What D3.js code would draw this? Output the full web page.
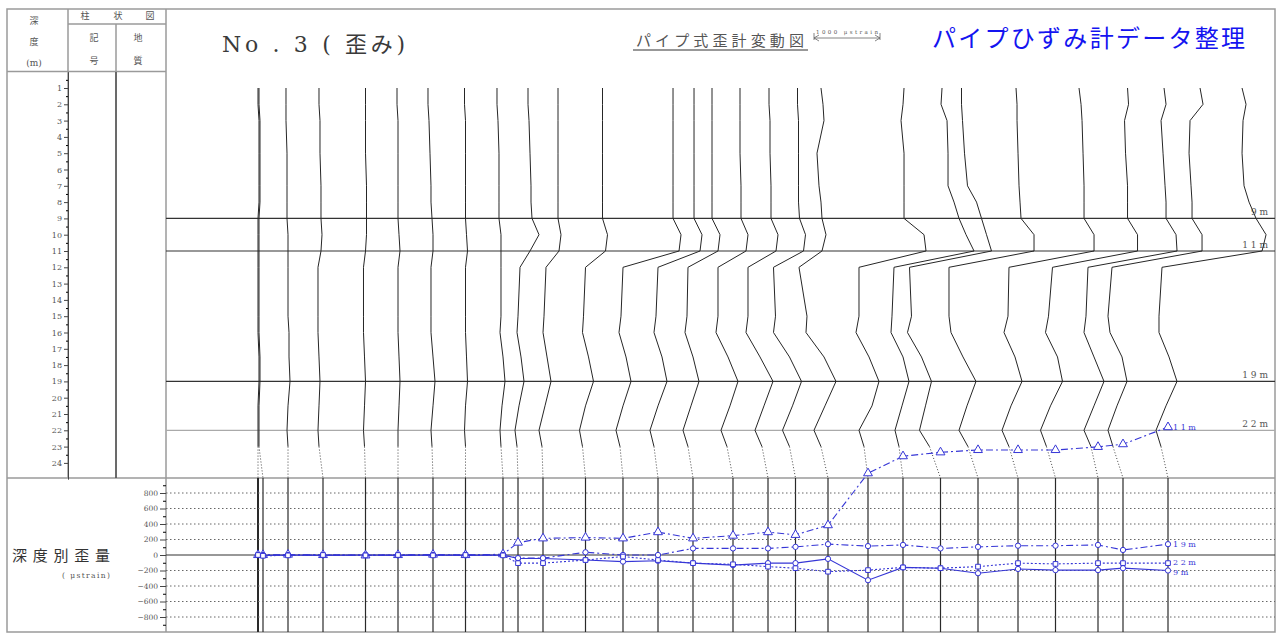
<!DOCTYPE html>
<html>
<head>
<meta charset="utf-8">
<script src="https://cdn.jsdelivr.net/npm/d3@7"></script>
<style>
  body { margin: 0; background: #fff; }
  svg { display: block; }
  text { font-family: "DejaVu Serif", "Noto Sans CJK JP", serif; }
</style>
</head>
<body>
<script>
(function () {
    var width = 1278;
    var height = 635;

    // days since the first reading, one per measurement
    var obsDays = [0, 2, 12, 26, 43, 56, 70, 83, 98, 104, 114, 131, 146, 160, 174, 190, 204, 215, 228, 244, 258, 273, 288, 304, 319, 336, 346, 364];

    // depths (m) at which each profile is read
    var nodeDepths = [1, 2, 3, 5, 7, 8, 9, 10, 11, 12, 15, 16, 17.5, 19, 20.5, 22, 23];

    // cumulative strain (μstrain) of each profile, one row per measurement
    var profiles = [
        [0, 0, 15, 15, 15, 15, 0, 0, 0, 0, 0, 0, 15, 15, 0, 0, 0],
        [-60, -60, -45, -45, -45, -45, -60, -60, -60, -60, -60, -60, -45, -45, -60, -60, -60],
        [-30, -30, -30, -15, -15, -15, -15, 0, 0, 0, 0, 15, 15, 30, 0, -15, 0],
        [-60, -60, -45, -45, -30, -30, -30, -15, -30, -75, -75, -75, -60, -45, -60, -75, -60],
        [0, 0, 0, 0, 15, 15, 15, 15, 0, -30, -30, -30, -15, 0, -15, -30, -15],
        [-15, -15, 0, 0, 0, 0, 0, 15, 30, 0, 0, 0, 15, 30, 15, 0, 0],
        [-75, -75, -60, -45, -30, -30, -15, 0, 0, -30, -30, -30, 0, 30, 0, -30, -15],
        [-15, -15, 0, 0, 0, 0, 0, 15, 30, 0, 0, 0, 15, 30, 0, -15, 0],
        [-90, -90, -75, -60, -60, -60, -60, -30, -30, -30, -30, -45, 0, 30, -15, -45, -30],
        [150, 150, 165, 180, 195, 195, 210, 315, 180, 30, 0, -15, 45, 90, 15, -45, -15],
        [225, 225, 225, 225, 225, 225, 225, 270, 240, 45, 15, 0, 60, 120, 30, -60, -15],
        [255, 255, 255, 255, 255, 255, 255, 330, 300, 0, -30, -45, 45, 120, 0, -90, -45],
        [750, 750, 750, 750, 750, 750, 750, 870, 840, 0, -30, -60, 45, 120, 0, -105, -45],
        [540, 540, 540, 540, 540, 540, 540, 660, 630, 0, -30, -60, 60, 135, 0, -120, -60],
        [285, 285, 285, 285, 285, 285, 285, 405, 375, -75, -90, -120, 0, 90, -30, -150, -75],
        [105, 105, 105, 105, 120, 120, 120, 225, 195, -225, -225, -255, -75, 75, -45, -180, -90],
        [15, 15, 30, 30, 45, 45, 45, 150, 120, -300, -300, -330, -120, 75, -60, -195, -90],
        [30, 30, 45, 45, 45, 45, 60, 150, 120, -330, -300, -330, -90, 90, -45, -195, -90],
        [-105, -75, -60, -165, -135, -105, -90, -30, -90, -435, -315, -330, -60, 120, -45, -210, -105],
        [540, 525, 495, 540, 540, 540, 540, 840, 870, -135, -135, -180, 15, 165, 60, -135, -60],
        [585, 570, 660, 675, 675, 765, 840, 945, 1065, -135, -165, -180, 0, 90, -15, -120, -60],
        [315, 315, 330, 360, 405, 540, 615, 690, 765, -465, -435, -495, -285, -135, -225, -315, -165],
        [570, 585, 585, 600, 615, 630, 645, 840, 840, -435, -435, -405, -225, -30, -165, -285, -150],
        [915, 945, 960, 975, 990, 990, 990, 1140, 1140, -135, -150, -210, -45, 60, -105, -240, -135],
        [1080, 1095, 1035, 1050, 1080, 1080, 1080, 1230, 1230, -45, -105, -150, 30, 105, -75, -225, -135],
        [990, 1020, 945, 975, 1005, 1020, 1020, 1170, 1185, -150, -180, -210, -60, 90, -60, -210, -105],
        [1155, 1200, 1005, 990, 1020, 1035, 1035, 1185, 1185, -165, -225, -195, -15, 60, -90, -225, -150],
        [1110, 1170, 1125, 1110, 1140, 1215, 1320, 1470, 1410, -90, -135, -135, 15, 135, -30, -180, -105]
    ];

    var depthLabels = [1, 2, 3, 4, 5, 6, 7, 8, 9, 10, 11, 12, 13, 14, 15, 16, 17, 18, 19, 20, 21, 22, 23, 24];
    var strainTicks = [-800, -600, -400, -200, 0, 200, 400, 600, 800];
    var markerDepths = [9, 11, 19, 22];

    // strain by depth at each reading (μstrain)
    var strain9 = [0, -5, 0, -5, 0, -5, 0, -5, 0, -45, -45, -65, -85, -75, -105, -130, -105, -105, -50, -325, -160, -170, -235, -180, -195, -195, -170, -200];
    var strain11 = [0, 0, 5, 0, -5, 0, 5, 0, 10, 160, 215, 225, 215, 295, 215, 250, 295, 260, 385, 1055, 1275, 1325, 1355, 1355, 1355, 1395, 1430, 1650];
    var strain19 = [0, 0, 0, 0, 0, 0, 0, 0, 0, -40, -40, 35, 0, 0, 85, 85, 85, 105, 140, 115, 130, 85, 105, 120, 120, 130, 65, 140];
    var strain22 = [0, -10, -5, 0, -5, 0, -5, 0, -5, -105, -105, -65, -20, -65, -105, -120, -150, -170, -215, -195, -160, -170, -150, -105, -115, -105, -105, -105];

    var blue = "#3636d6";
    var left = 166, right = 1275, top = 9, bottom = 632, split = 478;

    var svg = d3.select("body").append("svg")
        .attr("width", width)
        .attr("height", height);

    var xTime = d3.scaleLinear().domain([0, 364]).range([258, 1168]);
    var xDisp = d3.scaleLinear().domain([0, 1000]).range([0, 66.7]);
    var yDepth = d3.scaleLinear().domain([0, 25]).range([71.7, 479.2]);
    var yStrain = d3.scaleLinear().domain([-800, 800]).range([617, 493]);

    // frame and header table
    var frame = svg.append("g").attr("fill", "none").attr("stroke", "#9a9a9a").attr("stroke-width", 1.5);
    frame.append("rect").attr("x", 7).attr("y", top).attr("width", right - 7).attr("height", bottom - top);
    [[left, top, left, bottom], [68, top, 68, split], [116, 24, 116, split], [68, 24, left, 24],
     [7, 71.5, left, 71.5], [7, split, right, split]].forEach(function (l) {
        frame.append("line").attr("x1", l[0]).attr("y1", l[1]).attr("x2", l[2]).attr("y2", l[3]);
    });
    svg.append("line").attr("x1", 116).attr("x2", 116).attr("y1", 72).attr("y2", split)
        .attr("stroke", "#222").attr("stroke-width", 1);

    var head = svg.append("g").attr("font-size", 9).attr("fill", "#555").attr("text-anchor", "middle");
    [["深", 34, 24], ["度", 34, 45], ["(m)", 34, 66], ["柱", 85, 19], ["状", 118, 19], ["図", 150, 19],
     ["記", 94, 41], ["号", 94, 64], ["地", 138, 41], ["質", 138, 64]].forEach(function (t) {
        head.append("text").attr("x", t[1]).attr("y", t[2]).text(t[0]);
    });

    // depth axis
    var depthAxis = svg.append("g").attr("transform", "translate(68,0)")
        .call(d3.axisLeft(yDepth).tickValues(depthLabels).tickSize(4).tickSizeOuter(0).tickPadding(2));
    svg.append("g").attr("transform", "translate(68,0)")
        .call(d3.axisLeft(yDepth).tickValues(depthLabels.map(function (d) { return d - 0.5; }))
            .tickSize(2).tickSizeOuter(0).tickFormat(""))
        .select(".domain").remove();
    depthAxis.selectAll("text").attr("font-size", 8).attr("fill", "#555")
        .style("font-family", "DejaVu Serif");
    depthAxis.selectAll("line,path").attr("stroke", "#444");

    // reference depth lines
    svg.append("g").selectAll("line").data(markerDepths).enter().append("line")
        .attr("x1", left).attr("x2", right)
        .attr("y1", function (d) { return yDepth(d); })
        .attr("y2", function (d) { return yDepth(d); })
        .attr("stroke", function (d) { return d === 22 ? "#aaa" : "#333"; })
        .attr("stroke-width", 1.2);
    svg.append("g").selectAll("text").data(markerDepths).enter().append("text")
        .attr("x", 1268).attr("y", function (d) { return yDepth(d) - 3; })
        .attr("text-anchor", "end").attr("font-size", 9).attr("fill", "#555")
        .text(function (d) { return String(d).split("").join(" ") + " m"; });

    // profiles
    var profLine = d3.line()
        .x(function (p) { return p[0]; })
        .y(function (p) { return p[1]; });
    profiles.forEach(function (row, i) {
        var x0 = xTime(obsDays[i]);
        var pts = nodeDepths.map(function (dep, j) { return [x0 + xDisp(row[j]), yDepth(dep)]; });
        svg.append("path").attr("d", profLine(pts))
            .attr("fill", "none").attr("stroke", "#262626").attr("stroke-width", 1);
        var last = pts[pts.length - 1];
        svg.append("line").attr("x1", last[0]).attr("y1", last[1]).attr("x2", x0).attr("y2", split)
            .attr("stroke", "#444").attr("stroke-width", 1).attr("stroke-dasharray", "1,2");
        svg.append("line").attr("x1", x0).attr("x2", x0).attr("y1", split).attr("y2", bottom)
            .attr("stroke", "#2a2a2a").attr("stroke-width", i === 0 ? 2 : 1.2);
    });

    // lower panel grid and axis
    svg.append("g").selectAll("line").data(strainTicks).enter().append("line")
        .attr("x1", left).attr("x2", right)
        .attr("y1", function (d) { return yStrain(d); })
        .attr("y2", function (d) { return yStrain(d); })
        .attr("stroke", function (d) { return d === 0 ? "#333" : "#666"; })
        .attr("stroke-width", function (d) { return d === 0 ? 1.2 : 1; })
        .attr("stroke-dasharray", function (d) { return d === 0 ? null : "1.5,2.5"; });

    var strainAxis = svg.append("g").attr("transform", "translate(" + left + ",0)")
        .call(d3.axisLeft(yStrain).tickValues(strainTicks).tickSize(6).tickSizeOuter(0).tickPadding(2));
    svg.append("g").attr("transform", "translate(" + left + ",0)")
        .call(d3.axisLeft(yStrain).tickValues(strainTicks.map(function (d) { return d + 100; }).concat([-900]))
            .tickSize(3).tickSizeOuter(0).tickFormat(""))
        .select(".domain").remove();
    strainAxis.select(".domain").remove();
    strainAxis.selectAll("text").attr("font-size", 7.5).attr("fill", "#555")
        .style("font-family", "DejaVu Serif");
    strainAxis.selectAll("line").attr("stroke", "#444");

    svg.append("text").attr("x", 12).attr("y", 561).attr("font-size", 15).attr("fill", "#333")
        .attr("textLength", 98).style("font-family", "Noto Sans CJK JP").text("深度別歪量");
    svg.append("text").attr("x", 62).attr("y", 578).attr("font-size", 7.5).attr("fill", "#555")
        .attr("textLength", 48).text("( μstrain)");

    // series by depth
    var series = [
        { name: "9 m", values: strain9, symbol: d3.symbolCircle, dash: null, dy: 4.5 },
        { name: "1 1 m", values: strain11, symbol: d3.symbolTriangle, dash: "7,3,2,3", dy: 3 },
        { name: "1 9 m", values: strain19, symbol: d3.symbolCircle, dash: "7,3,2,3", dy: 3 },
        { name: "2 2 m", values: strain22, symbol: d3.symbolSquare, dash: "2,2", dy: 2 }
    ];
    var sLine = d3.line()
        .x(function (d, i) { return xTime(obsDays[i]); })
        .y(function (d) { return yStrain(d); });
    series.forEach(function (s) {
        var g = svg.append("g");
        g.append("path").attr("d", sLine(s.values))
            .attr("fill", "none").attr("stroke", blue).attr("stroke-width", 1.1)
            .attr("stroke-dasharray", s.dash);
        g.selectAll("path.mk").data(s.values).enter().append("path")
            .attr("class", "mk")
            .attr("d", d3.symbol().type(s.symbol).size(s.symbol === d3.symbolTriangle ? 34 : 22))
            .attr("transform", function (d, i) { return "translate(" + xTime(obsDays[i]) + "," + yStrain(d) + ")"; })
            .attr("fill", "#fff").attr("stroke", blue).attr("stroke-width", 1);
        var lv = s.values[s.values.length - 1];
        g.append("text").attr("x", xTime(obsDays[obsDays.length - 1]) + 5).attr("y", yStrain(lv) + s.dy)
            .attr("font-size", 8).attr("fill", blue).text(s.name);
    });

    // titles
    svg.append("text").attr("x", 222).attr("y", 52).attr("font-size", 22).attr("fill", "#3a3a3a")
        .attr("textLength", 183).text("No . 3 ( 歪み)");
    svg.append("text").attr("x", 636).attr("y", 46).attr("font-size", 15).attr("fill", "#555")
        .attr("textLength", 168).style("font-family", "Noto Sans CJK JP").text("パイプ式歪計変動図");
    svg.append("line").attr("x1", 633).attr("x2", 808).attr("y1", 50).attr("y2", 50)
        .attr("stroke", "#333").attr("stroke-width", 1.2);

    var arrow = svg.append("g").attr("stroke", "#666").attr("stroke-width", 0.8).attr("fill", "none");
    arrow.append("line").attr("x1", 814).attr("x2", 880).attr("y1", 38).attr("y2", 38);
    arrow.append("path").attr("d", "M819,35L814,38L819,41M875,35L880,38L875,41M814,33V40M880,33V40");
    svg.append("text").attr("x", 816).attr("y", 34).attr("font-size", 5.5).attr("fill", "#555")
        .attr("textLength", 62).text("1000 μstrain");

    svg.append("text").attr("x", 932).attr("y", 47).attr("font-size", 24).attr("fill", "#1414f0")
        .attr("textLength", 313).style("font-family", "Noto Sans CJK JP").text("パイプひずみ計データ整理");
})();
</script>
</body>
</html>
